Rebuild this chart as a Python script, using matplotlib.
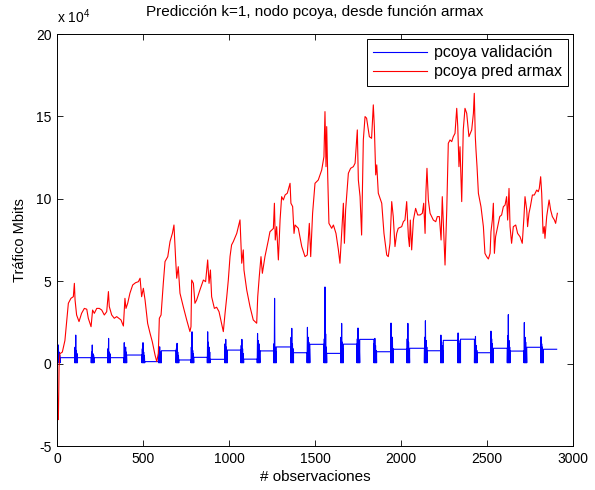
import matplotlib
matplotlib.use('Agg')
import matplotlib.pyplot as plt
from matplotlib.ticker import FuncFormatter, MultipleLocator

plt.rcParams['font.family'] = ['Liberation Sans', 'DejaVu Sans']
plt.rcParams['mathtext.default'] = 'regular'

ESCALA = 1e4

# Prediccion armax (unidades de 1e4 Mbits)
red_x = [0, 4, 8, 12, 17, 31, 46, 66, 81, 95, 101, 105, 114, 128, 143, 159, 173, 182,
         198, 207, 217, 231, 246, 260, 275, 289, 299, 304, 318, 333, 347, 360, 372, 386,
         395, 401, 411, 424, 440, 457, 473, 483, 492, 502, 512, 527, 541, 554, 570, 580,
         589, 595, 605, 618, 628, 644, 657, 671, 680, 690, 696, 705, 715, 734, 754, 773,
         779, 783, 793, 802, 812, 831, 851, 864, 876, 884, 892, 899, 915, 928, 942, 957,
         967, 977, 987, 996, 1006, 1015, 1025, 1045, 1064, 1074, 1083, 1087, 1103, 1122,
         1141, 1161, 1167, 1176, 1186, 1194, 1209, 1229, 1238, 1258, 1264, 1269, 1277,
         1287, 1297, 1306, 1316, 1326, 1339, 1355, 1360, 1370, 1378, 1384, 1403, 1423,
         1442, 1455, 1467, 1475, 1486, 1500, 1519, 1539, 1552, 1558, 1564, 1568, 1574,
         1581, 1597, 1607, 1622, 1636, 1645, 1655, 1665, 1671, 1678, 1694, 1707, 1723,
         1733, 1746, 1752, 1762, 1771, 1781, 1791, 1800, 1816, 1829, 1839, 1845, 1853,
         1859, 1868, 1888, 1901, 1917, 1926, 1936, 1946, 1955, 1965, 1975, 1984, 2004,
         2014, 2023, 2033, 2043, 2049, 2054, 2062, 2072, 2085, 2097, 2111, 2124, 2132,
         2140, 2145, 2151, 2159, 2169, 2188, 2202, 2211, 2223, 2233, 2240, 2248, 2256,
         2266, 2275, 2285, 2295, 2304, 2314, 2324, 2330, 2337, 2343, 2353, 2362, 2372,
         2382, 2395, 2411, 2421, 2426, 2432, 2436, 2442, 2450, 2465, 2479, 2488, 2498,
         2508, 2518, 2523, 2531, 2537, 2543, 2550, 2562, 2574, 2585, 2595, 2605, 2614,
         2620, 2628, 2634, 2643, 2653, 2667, 2678, 2692, 2705, 2715, 2721, 2731, 2736,
         2744, 2752, 2764, 2775, 2789, 2798, 2804, 2812, 2818, 2826, 2833, 2837, 2847,
         2861, 2870, 2880, 2892, 2899, 2909]
red_y = [0.62, -3.0, -3.4, -0.2, 0.6, 0.7, 1.4, 3.66, 3.96, 4.06, 4.87, 3.86, 2.95, 2.55,
         3.05, 3.35, 3.3, 2.75, 2.24, 3.25, 3.05, 3.35, 3.35, 3.25, 2.95, 3.15, 4.37, 3.46,
         2.95, 2.75, 2.85, 2.75, 2.65, 2.28, 3.96, 3.35, 3.66, 4.27, 4.77, 4.91, 4.97, 5.18,
         4.06, 4.57, 3.86, 2.44, 1.84, 1.33, 0.52, 0.12, 0.62, 2.75, 2.95, 4.87, 6.19, 6.49,
         7.40, 7.91, 8.41, 6.29, 5.18, 5.88, 4.27, 3.46, 2.65, 1.94, 2.24, 5.07, 4.87, 3.66,
         3.86, 4.47, 5.07, 4.97, 6.29, 4.87, 5.68, 4.06, 3.35, 3.42, 3.15, 2.44, 1.94, 3.05,
         4.06, 5.07, 6.5, 7.2, 7.4, 7.9, 8.72, 6.09, 6.9, 5.68, 4.47, 3.46, 2.65, 2.45,
         4.06, 5.28, 6.49, 5.48, 6.49, 7.5, 8.0, 8.2, 9.73, 7.5, 8.31, 6.29, 8.72, 10.13,
         9.93, 10.23, 10.34, 10.94, 9.73, 9.53, 7.9, 8.41, 8.21, 7.1, 6.49, 6.59, 8.51,
         6.49, 9.12, 10.94, 11.14, 11.75, 12.56, 15.29, 11.95, 14.38, 11.35, 8.51, 8.21,
         8.41, 7.9, 6.9, 6.09, 7.9, 9.73, 7.3, 9.32, 11.55, 11.85, 11.95, 12.16, 14.18,
         11.14, 10.13, 7.8, 13.57, 14.99, 14.89, 13.77, 13.67, 15.7, 14.38, 11.45, 12.06,
         10.34, 9.73, 7.9, 6.59, 6.49, 7.3, 9.83, 8.92, 7.1, 7.9, 8.21, 8.31, 8.62, 8.71,
         9.83, 7.7, 7.1, 8.71, 6.9, 8.71, 9.42, 9.02, 9.02, 9.12, 9.73, 7.9, 10.43, 11.85,
         9.93, 9.12, 8.71, 8.61, 8.92, 8.92, 7.5, 10.13, 8.1, 5.98, 9.32, 13.37, 13.57,
         13.47, 13.77, 13.97, 15.49, 14.38, 11.95, 13.16, 9.83, 14.18, 15.49, 15.19, 13.77,
         14.18, 15.19, 16.4, 13.77, 12.96, 11.95, 10.33, 9.52, 8.31, 6.69, 6.49, 6.35,
         6.69, 8.0, 8.71, 9.73, 6.69, 7.7, 8.31, 8.92, 9.02, 9.52, 9.62, 10.13, 8.71,
         10.63, 8.31, 7.3, 8.31, 8.41, 7.9, 7.7, 7.3, 8.92, 10.13, 9.32, 8.31, 9.12, 9.52,
         10.23, 10.23, 10.53, 10.43, 10.63, 11.34, 10.33, 7.9, 8.31, 7.6, 8.92, 9.93,
         9.32, 8.92, 8.71, 8.51, 9.12]

# Validacion: rafagas diarias sobre un nivel base escalonado (unidades de 1e4 Mbits)
inicio_rafaga = [2, 103, 199, 294, 389, 494, 591, 692, 779, 874, 975, 1069, 1164, 1259,
                 1359, 1454, 1552, 1649, 1744, 1842, 1940, 2034, 2136, 2230, 2330, 2427,
                 2521, 2618, 2715, 2812]
picos_rafaga = [
    [0.9, 1.13, 0.7, 0.5], [1.0, 1.73, 0.8, 0.6], [0.7, 1.13, 0.6, 0.5],
    [0.9, 1.53, 0.7, 0.6], [1.27, 0.9, 1.0, 0.7], [0.9, 1.27, 0.7, 0.5],
    [0.8, 1.02, 0.7, 0.6], [0.9, 1.23, 0.7, 0.5], [1.0, 1.93, 0.8, 0.6],
    [1.93, 1.3, 1.0, 0.7], [1.2, 1.47, 1.0, 0.8], [1.1, 1.47, 0.9, 0.6],
    [1.83, 1.4, 1.2, 0.8], [1.2, 3.96, 1.0, 0.7], [1.6, 2.14, 1.2, 0.9],
    [2.2, 1.6, 1.3, 0.9], [1.5, 4.65, 1.8, 1.0], [1.6, 2.44, 1.3, 0.9],
    [1.5, 2.16, 1.4, 0.9], [1.2, 1.53, 1.1, 0.8], [2.46, 1.5, 1.6, 0.9],
    [1.5, 2.44, 1.3, 0.8], [1.6, 2.6, 1.4, 1.0], [1.73, 1.3, 1.1, 0.8],
    [1.86, 1.4, 1.2, 0.8], [1.3, 1.65, 1.1, 0.8], [1.97, 1.5, 1.2, 0.9],
    [1.7, 2.97, 1.4, 1.0], [2.49, 1.6, 1.3, 0.9], [1.63, 1.2, 1.0, 0.7],
]
nivel_base = [0.36, 0.36, 0.36, 0.36, 0.52, 0.12, 0.78, 0.22, 0.38, 0.26, 0.82, 0.27,
              0.77, 1.01, 0.66, 1.17, 0.62, 1.18, 1.47, 0.72, 0.87, 0.93, 0.78, 1.41,
              1.48, 0.66, 0.93, 0.76, 0.99, 0.87]
fondo_rafaga = 0.05
fin_serie = 2905


def serie_validacion():
    xs, ys = [], []
    for i, x0 in enumerate(inicio_rafaga):
        if i > 0:
            xs += [x0]
            ys += [nivel_base[i - 1]]
        paso = 0
        for p in picos_rafaga[i]:
            xs += [x0 + paso, x0 + paso + 2]
            ys += [fondo_rafaga, p]
            paso += 4
        xs += [x0 + paso, x0 + paso]
        ys += [fondo_rafaga, nivel_base[i]]
    xs.append(fin_serie)
    ys.append(nivel_base[-1])
    return xs, [v * ESCALA for v in ys]


fig = plt.figure(figsize=(5.95, 4.9), dpi=100)
ax = fig.add_axes([57 / 595, 1 - 446 / 490, 516 / 595, 412 / 490])

bx, by = serie_validacion()
ax.plot(bx, by, color='blue', linewidth=0.8, label='pcoya validación')
ax.plot(red_x, [v * ESCALA for v in red_y], color='red', linewidth=0.8,
        label='pcoya pred armax')

ax.set_xlim(0, 3000)
ax.set_ylim(-5e4, 20e4)
ax.xaxis.set_major_locator(MultipleLocator(500))
ax.yaxis.set_major_locator(MultipleLocator(5e4))
ax.yaxis.set_major_formatter(FuncFormatter(lambda v, _: f'{v / ESCALA:g}'))
ax.tick_params(direction='in', top=True, right=True, length=4, width=0.6,
               labelsize=10, pad=4)
for s in ax.spines.values():
    s.set_linewidth(0.7)

ax.text(0, 1.02, r'x 10$^{4}$', transform=ax.transAxes, ha='left', va='bottom',
        fontsize=10)
ax.set_title('Predicción k=1, nodo pcoya, desde función armax', fontsize=11, pad=13)
ax.set_xlabel('# observaciones', fontsize=11, labelpad=3)
ax.set_ylabel('Tráfico Mbits', fontsize=10.5, labelpad=6)

leg = ax.legend(loc='upper right', fontsize=11.5, handlelength=3.4, fancybox=False,
                edgecolor='black', framealpha=1, borderaxespad=0.3,
                borderpad=0.4, labelspacing=0.25, handletextpad=0.4)
leg.get_frame().set_linewidth(0.7)

fig.savefig('out.png', dpi=100)
